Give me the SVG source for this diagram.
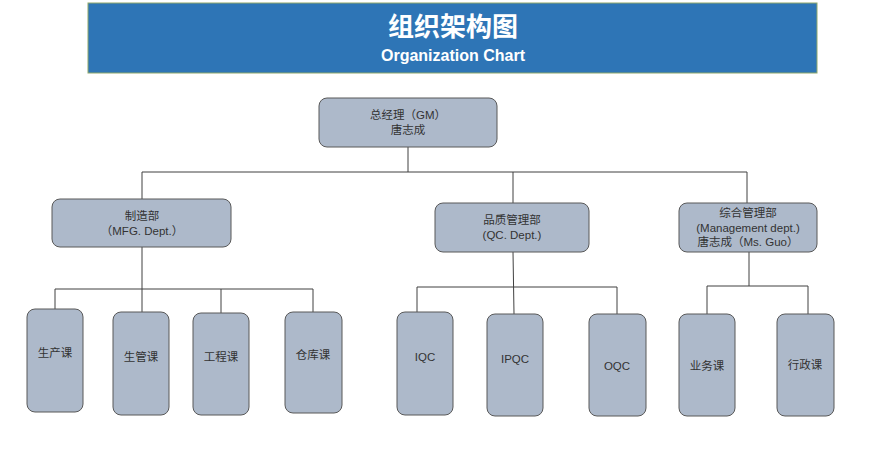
<svg xmlns="http://www.w3.org/2000/svg" width="880" height="455" viewBox="0 0 880 455">
<style>
.box{fill:#ADB9CA;stroke:#595959;stroke-width:1}
.t{font-family:"Liberation Sans","Noto Sans CJK SC",sans-serif;font-size:11.5px;fill:#333;text-anchor:middle}
.c{fill:none;stroke:#404040;stroke-width:1}
</style>
<rect width="880" height="455" fill="#fff"/>
<g id="header">
<rect x="88" y="3" width="729" height="70" fill="#2E75B6" stroke="#8FA86A" stroke-width="1"/>
<text x="453" y="36" font-family="'Noto Sans CJK SC',sans-serif" font-size="26" font-weight="bold" fill="#fff" text-anchor="middle">组织架构图</text>
<text x="453" y="61" font-family="'Liberation Sans','Noto Sans CJK SC',sans-serif" font-size="16" font-weight="bold" fill="#fff" text-anchor="middle">Organization Chart</text>
</g>
<g id="connectors" class="c">
<path d="M408 147V172M142 172H747M142 172V199M513 172V203M747 172V203"/>
<path d="M142 247V313M55 289H313M55 289V309M221 289V313M313 289V312"/>
<path d="M513 252L514 314M417 287H617M417 287V312M617 287V314"/>
<path d="M749 252V286M707 286H808M707 286V314M808 286V314"/>
</g>
<g id="gm"><rect class="box" x="319" y="98" width="178" height="49" rx="8"/>
<text class="t" x="408" y="119">总经理（GM）</text><text class="t" x="408" y="134">唐志成</text></g>
<g id="mfg"><rect class="box" x="52" y="199" width="179" height="48" rx="8"/>
<text class="t" x="142" y="220">制造部</text><text class="t" x="142" y="235">（MFG. Dept.）</text></g>
<g id="qc"><rect class="box" x="435" y="203" width="154" height="49" rx="8"/>
<text class="t" x="512" y="224">品质管理部</text><text class="t" x="512" y="239">(QC. Dept.)</text></g>
<g id="mgmt"><rect class="box" x="679" y="203" width="138" height="49" rx="8"/>
<text class="t" x="748" y="217">综合管理部</text><text class="t" x="748" y="232">(Management dept.)</text><text class="t" x="748" y="246">唐志成（Ms. Guo）</text></g>
<g id="sc"><rect class="box" x="27" y="309" width="56" height="103" rx="8"/><text class="t" x="55" y="357">生产课</text></g>
<g id="sg"><rect class="box" x="113" y="312" width="56" height="103" rx="8"/><text class="t" x="141" y="361">生管课</text></g>
<g id="gc"><rect class="box" x="193" y="313" width="56" height="102" rx="8"/><text class="t" x="221" y="361">工程课</text></g>
<g id="ck"><rect class="box" x="285" y="312" width="57" height="101" rx="8"/><text class="t" x="313" y="359">仓库课</text></g>
<g id="iqc"><rect class="box" x="397" y="312" width="56" height="103" rx="8"/><text class="t" x="425" y="361">IQC</text></g>
<g id="ipqc"><rect class="box" x="487" y="314" width="56" height="102" rx="8"/><text class="t" x="515" y="363">IPQC</text></g>
<g id="oqc"><rect class="box" x="589" y="314" width="57" height="102" rx="8"/><text class="t" x="617" y="370">OQC</text></g>
<g id="yw"><rect class="box" x="679" y="314" width="56" height="102" rx="8"/><text class="t" x="707" y="370">业务课</text></g>
<g id="xz"><rect class="box" x="777" y="314" width="57" height="102" rx="8"/><text class="t" x="805" y="369">行政课</text></g>
</svg>
